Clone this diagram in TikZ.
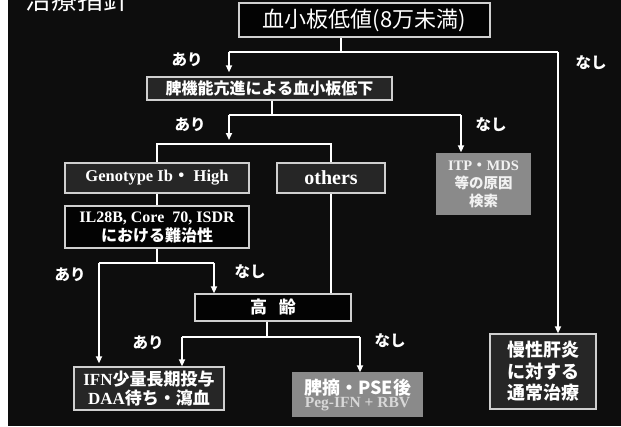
\documentclass[tikz,border=0pt]{standalone}
\usepackage{fontspec}
\setmainfont{Liberation Serif}
\newfontfamily\jp{Noto Sans CJK JP}
\usetikzlibrary{arrows.meta}
\definecolor{bgc}{HTML}{0D0D0D}
\definecolor{boxdark}{HTML}{262626}
\definecolor{boxblack}{HTML}{030303}
\definecolor{boxgrey}{HTML}{8A8A8A}
\definecolor{edgec}{HTML}{CFCFCF}
\definecolor{subtxt}{HTML}{D8D8D8}
\tikzset{
  bx/.style={draw=edgec, line width=1.3pt, fill=boxdark, inner sep=0pt, text=white, align=center},
  blk/.style={bx, fill=boxblack},
  gry/.style={bx, draw=boxgrey, fill=boxgrey},
  conn/.style={draw=white, line width=1.7pt},
  arr/.style={conn, -{Triangle[width=6pt,length=7pt]}},
  lbl/.style={text=white, font=\jp\bfseries\fontsize{15.5}{17}\selectfont, inner sep=0pt},
}
\begin{document}
\begin{tikzpicture}[x=1pt,y=-1pt]
\useasboundingbox (0,0) rectangle (621,426);
\fill[bgc] (0,0) rectangle (621,426);
\fill[white] (0,0) rectangle (8,426);

% title (cut off at the top, as in the reference)
\node[text=white, font=\jp\fontsize{26}{28}\selectfont, inner sep=0pt] (title) at (77,0) {治療指針};

% boxes
\node[blk, minimum width=251pt, minimum height=34pt, font=\jp\fontsize{22}{24}\selectfont] (main) at (364.5,20) {血小板低値(8万未満)};
\node[bx, minimum width=245pt, minimum height=23pt, font=\jp\bfseries\fontsize{16}{18}\selectfont] (spl) at (269.5,88.5) {脾機能亢進による血小板低下};
\node[bx, minimum width=184pt, minimum height=30pt, font=\bfseries\fontsize{16.5}{18}\selectfont] (geno) at (157,178) {Genotype Ib{\jp ・} High};
\node[bx, minimum width=108pt, minimum height=30pt, font=\bfseries\fontsize{20}{22}\selectfont] (oth) at (331,178) {others};
\node[gry, minimum width=93pt, minimum height=60pt, font=\bfseries\fontsize{14.5}{18}\selectfont, text=white!95!black] (itp) at (483.5,184) {ITP{\jp ・}MDS\\{\jp 等の原因}\\{\jp 検索}};
\node[blk, minimum width=184pt, minimum height=42pt, font=\bfseries\fontsize{16}{19}\selectfont] (il) at (157,227) {IL28B, Core\ \ 70, ISDR\\{\jp における難治性}};
\node[blk, minimum width=156pt, minimum height=27pt, font=\jp\bfseries\fontsize{17}{19}\selectfont] (old) at (273,307.5) {高\ \ \ 齢};
\node[bx, minimum width=150pt, minimum height=43pt, font=\bfseries\fontsize{17}{19}\selectfont] (ifn) at (149,388.5) {IFN{\jp 少量長期投与}\\DAA{\jp 待ち・瀉血}};
\node[gry, minimum width=129pt, minimum height=43pt, align=center] (spx) at (357.5,394.5) {{\jp\bfseries\fontsize{18}{20}\selectfont 脾摘・PSE後}\\[1pt]{\color{subtxt}\bfseries\fontsize{15.5}{15}\selectfont Peg-IFN + RBV}};
\node[bx, minimum width=106pt, minimum height=75pt, font=\jp\bfseries\fontsize{18}{21.5}\selectfont] (chr) at (543,371.5) {慢性肝炎\\に対する\\通常治療};

% junction coordinates
\coordinate (j1) at (341,52);
\coordinate (l1) at (229,52);
\coordinate (r1) at (558,52);
\coordinate (j2) at (272,115);
\coordinate (l2) at (229,115);
\coordinate (r2) at (461,115);
\coordinate (t2) at (229,140);
\coordinate (b1) at (157,144);
\coordinate (b2) at (331,144);
\coordinate (j3) at (157,263);
\coordinate (l3) at (99,263);
\coordinate (r3) at (214,263);
\coordinate (j4) at (267,337);
\coordinate (l4) at (182,337);
\coordinate (r4) at (360,337);

% connectors
\draw[conn] (main.south -| j1) -- (j1);
\draw[conn] (l1) -- (r1);
\draw[arr, shorten >=4pt] (l1) -- (l1 |- spl.north);
\draw[arr] (r1) -- (r1 |- chr.north);

\draw[conn] (spl.south -| j2) -- (j2);
\draw[conn] (l2) -- (r2);
\draw[arr] (l2) -- (t2);
\draw[arr, shorten >=1pt] (r2) -- (r2 |- itp.north);

\draw[conn] (geno.north) -- (b1) -- (b2) -- (oth.north);
\draw[conn] (geno.south) -- (il.north);
\draw[conn] (oth.south) -- (oth.south |- old.north);

\draw[conn] (il.south) -- (j3);
\draw[conn] (l3) -- (r3);
\draw[arr, shorten >=3pt] (l3) -- (l3 |- ifn.north);
\draw[arr] (r3) -- (r3 |- old.north);

\draw[conn] (old.south -| j4) -- (j4);
\draw[conn] (l4) -- (r4);
\draw[arr] (l4) -- (l4 |- ifn.north);
\draw[arr] (r4) -- (r4 |- spx.north);

% labels
\node[lbl] (a1) at (187,60) {あり};
\node[lbl] (n1) at (591,63) {なし};
\node[lbl] (a2) at (190,125) {あり};
\node[lbl] (n2) at (491,125) {なし};
\node[lbl] (a3) at (70,275) {あり};
\node[lbl] (n3) at (250,272) {なし};
\node[lbl] (a4) at (148,343) {あり};
\node[lbl] (n4) at (390,341) {なし};
\end{tikzpicture}
\end{document}
